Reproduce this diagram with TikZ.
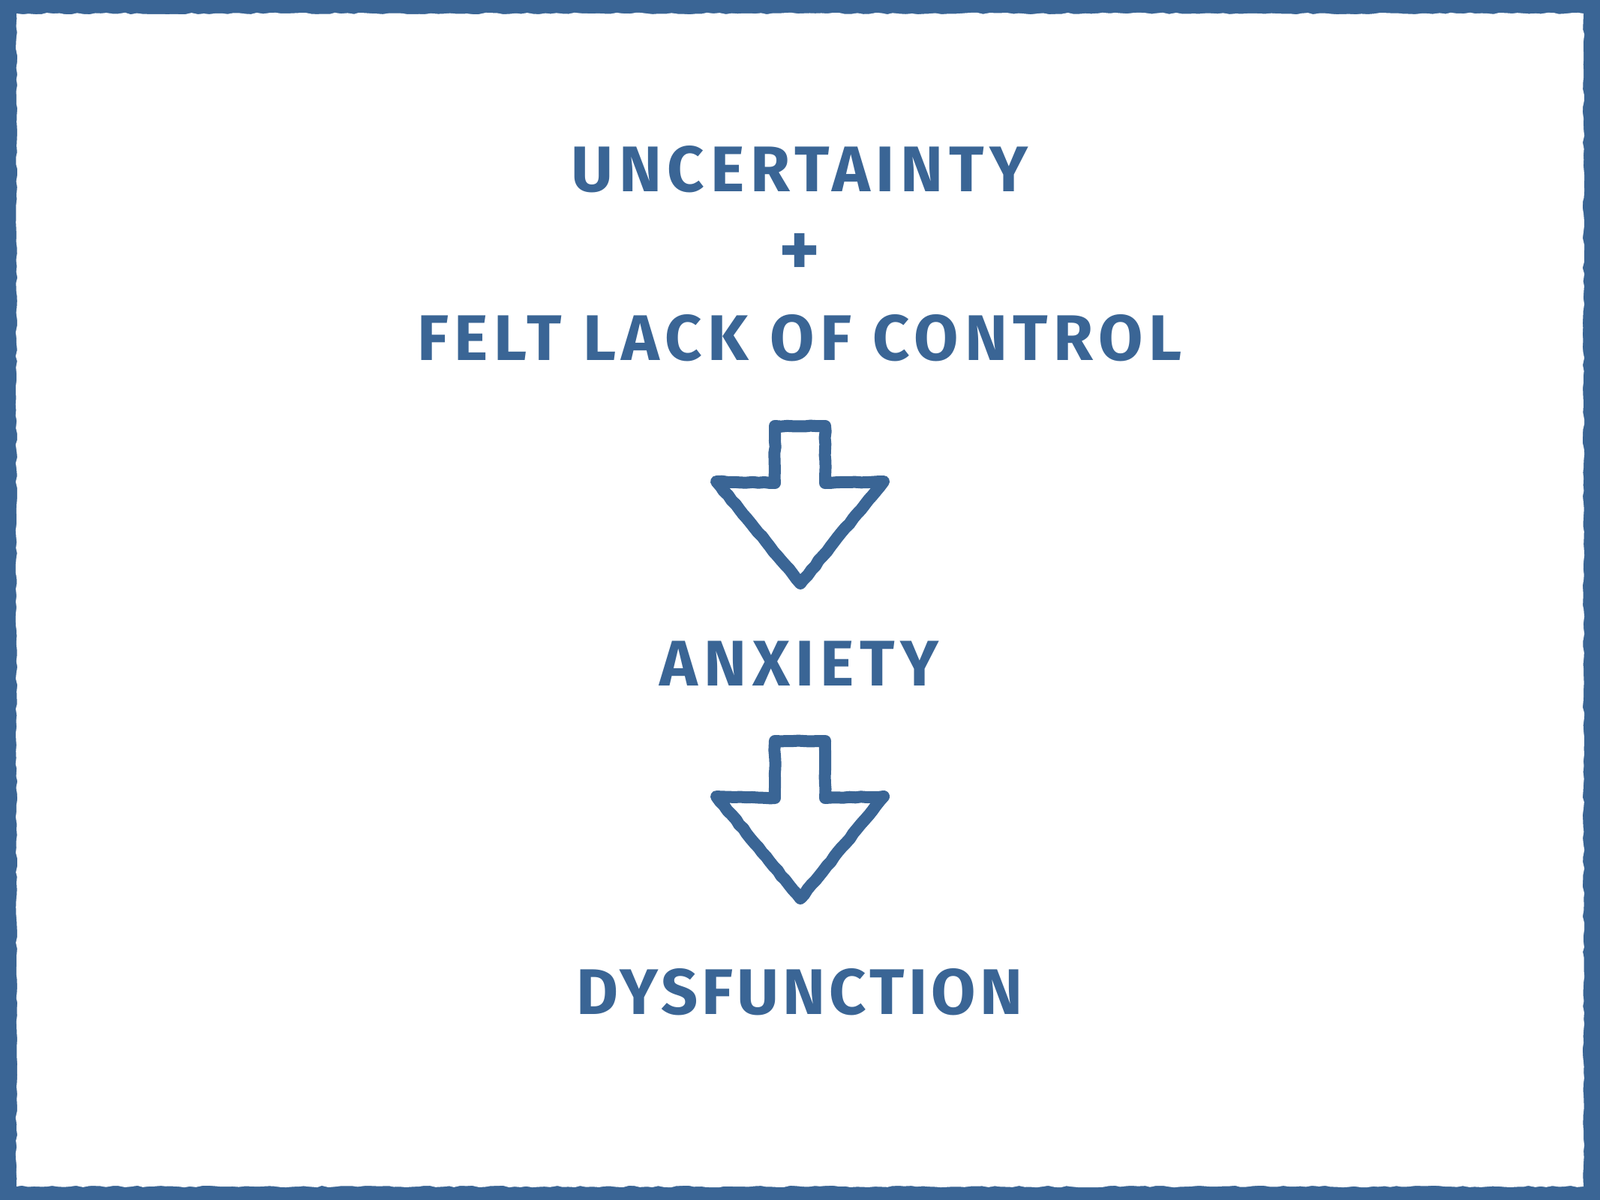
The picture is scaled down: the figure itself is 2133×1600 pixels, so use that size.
\documentclass[tikz,border=0pt]{standalone}
\usepackage{fontspec}
\setmainfont{Fira Sans}
\usetikzlibrary{decorations.pathmorphing}
\definecolor{chalk}{HTML}{3A6595}
\begin{document}
\begin{tikzpicture}[x=0.5pt,y=-0.5pt,
  lbl/.style={text=chalk,font=\fontsize{43}{47}\selectfont\bfseries,inner sep=0pt,anchor=center},
  bigarrow/.style={draw=chalk,line width=8pt,line join=round,
     decorate,decoration={random steps,segment length=4pt,amplitude=0.35pt}}]
\fill[chalk] (0,0) rectangle (2133,1600);
\fill[white,decorate,decoration={random steps,segment length=4pt,amplitude=0.6pt}] (22,18) rectangle (2111,1582);
\useasboundingbox (0,0) rectangle (2133,1600);
\node[lbl] (unc) at (1066,226) {\addfontfeature{LetterSpace=9}UNCERTAINTY};
\node[lbl,font=\fontsize{52}{56}\selectfont\bfseries] (plus) at (1066,340) {+};
\node[lbl] (felt) at (1066,451) {\addfontfeature{LetterSpace=9}FELT LACK OF CONTROL};
\node[lbl] (anx) at (1066,885) {\addfontfeature{LetterSpace=9}ANXIETY};
\node[lbl] (dys) at (1066,1323) {\addfontfeature{LetterSpace=6}DYSFUNCTION};
\foreach \dy in {0,420}{
  \draw[bigarrow] (1033,568+\dy) -- (1100,568+\dy) -- (1100,644+\dy) -- (1178,642+\dy)
     -- (1067,778+\dy) -- (955,642+\dy) -- (1033,644+\dy) -- cycle;
}
\end{tikzpicture}
\end{document}
